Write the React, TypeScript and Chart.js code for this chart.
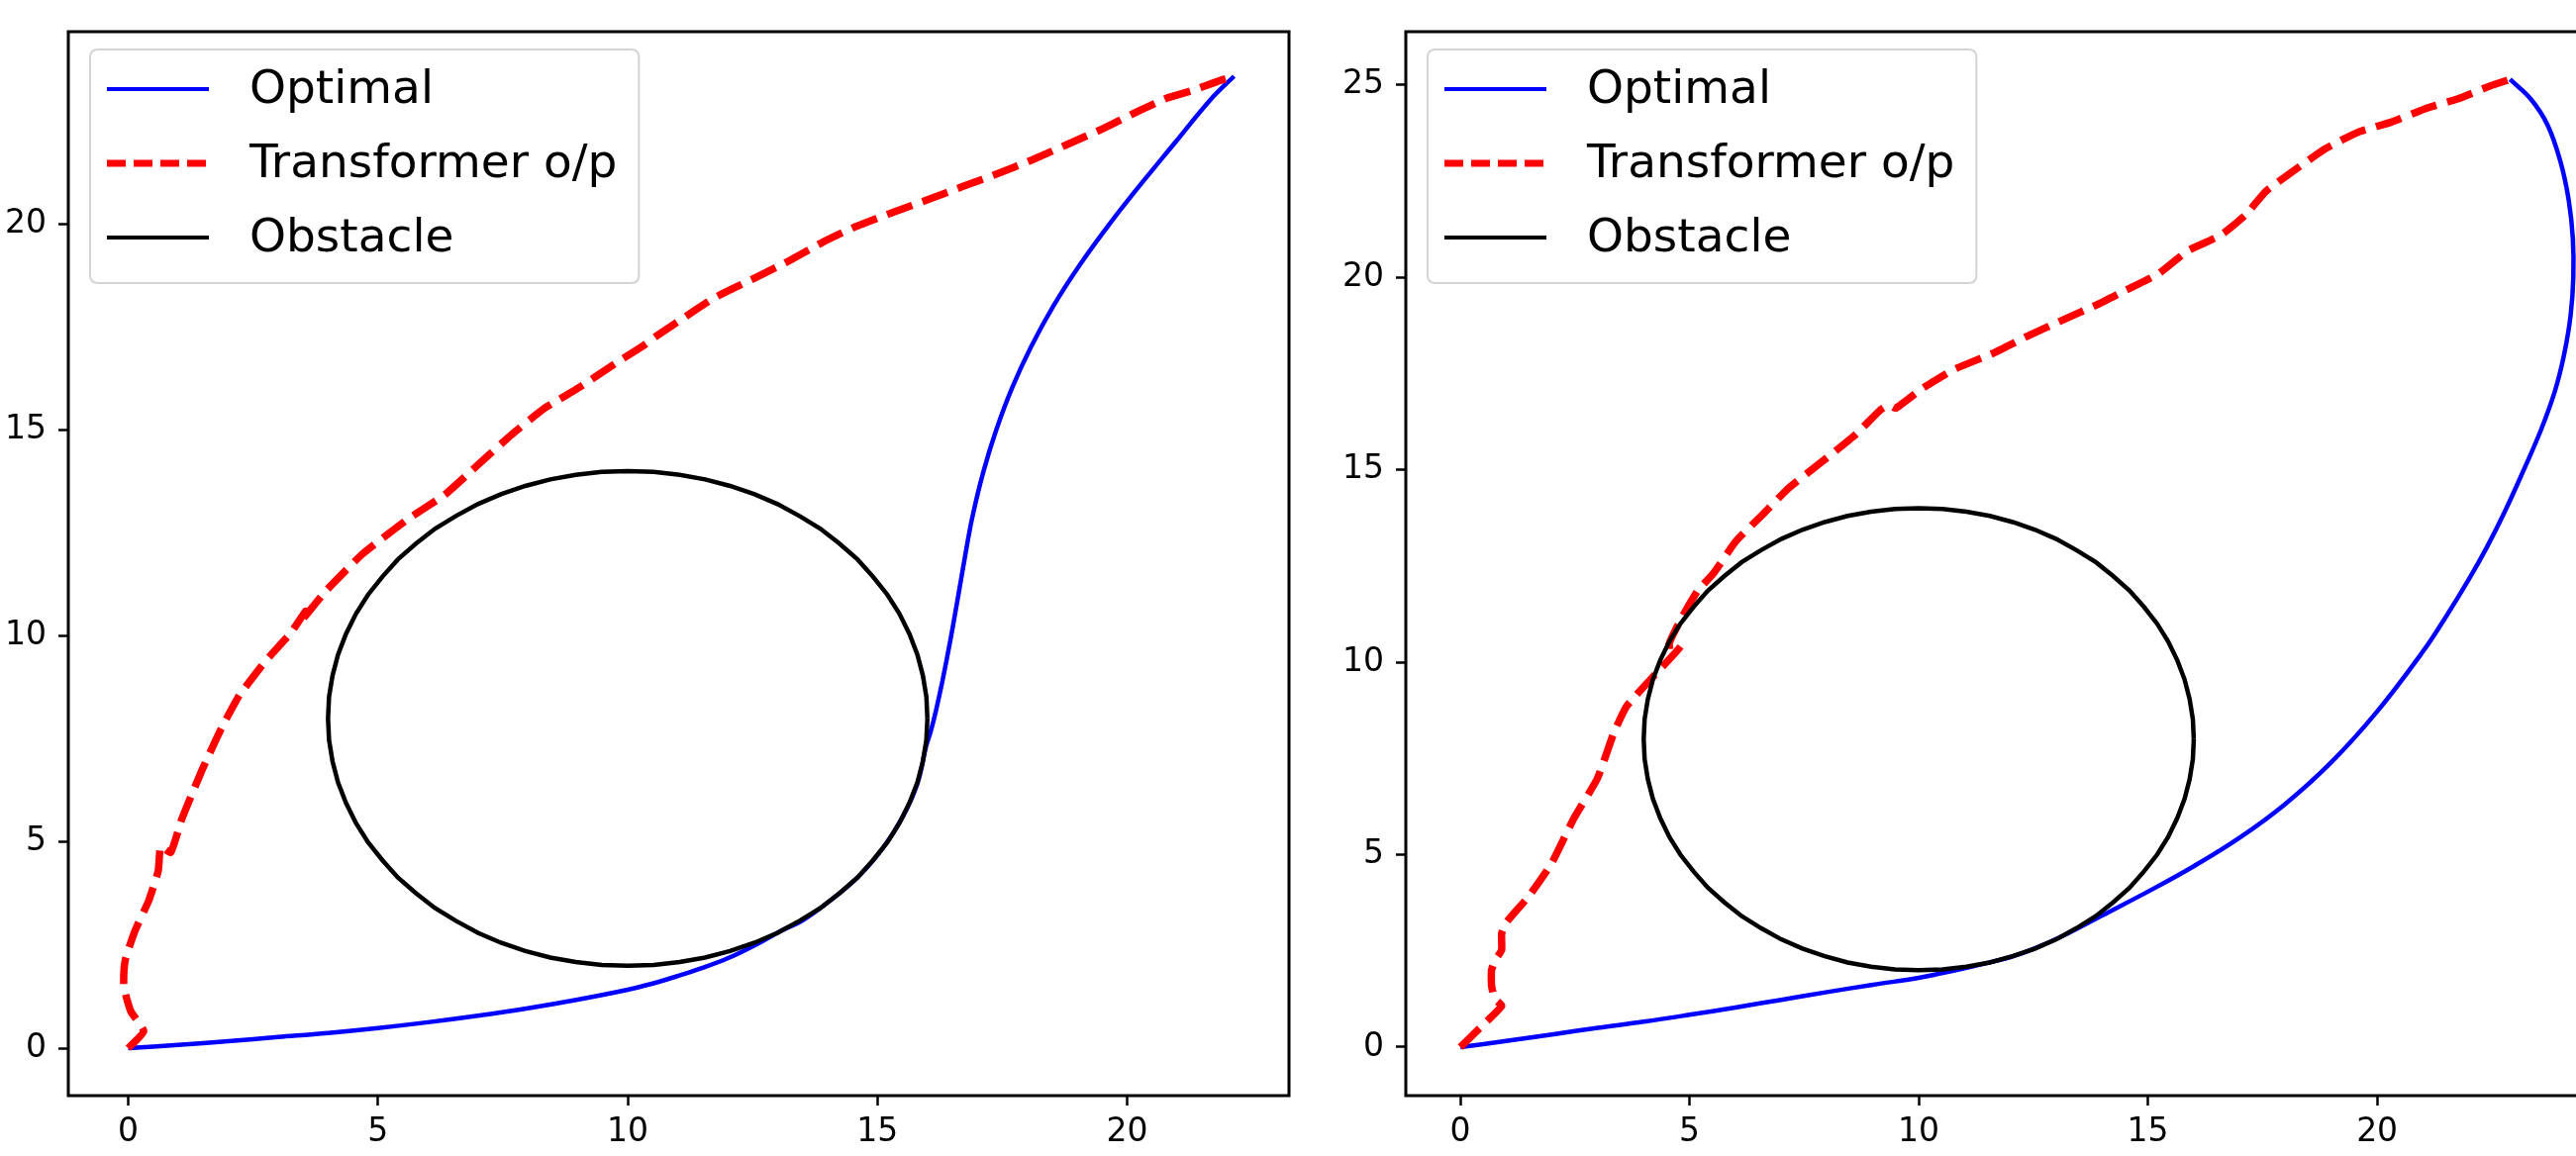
import React, { useEffect, useRef } from "react";
import { Chart, registerables } from "chart.js";

Chart.register(...registerables);

// ---------- data ----------
const SERIES_LABELS = ["Optimal", "Transformer o/p", "Obstacle"];
const X_TICKS = [0, 5, 10, 15, 20];
const Y_TICKS_LEFT = [0, 5, 10, 15, 20];
const Y_TICKS_RIGHT = [0, 5, 10, 15, 20, 25];

// Left panel
const leftOptimal: number[][] = [
  [0, 0], [1, 0.08], [2, 0.17], [3, 0.27], [4, 0.37], [5, 0.49], [6, 0.63], [7, 0.79],
  [8, 0.97], [9, 1.18], [10, 1.42], [10.5, 1.57], [11, 1.75], [11.5, 1.95], [12, 2.18],
  [12.5, 2.47], [13.09, 2.86], [13.5, 3.1], [14.0, 3.53], [14.6, 4.14], [15.1, 4.84],
  [15.5, 5.6], [15.8, 6.42], [15.97, 7.3], [16.07, 7.7], [16.17, 8.18], [16.3, 8.9],
  [16.45, 9.83], [16.6, 10.85], [16.75, 11.9], [16.9, 12.88], [17.12, 13.98], [17.38, 15.0],
  [17.69, 16.0], [18.07, 17.0], [18.52, 18.0], [19.05, 19.0], [19.65, 20.0], [20.3, 21.0],
  [20.98, 22.0], [21.66, 23.0], [22.14, 23.58],
];
const leftTransformer: number[][] = [
  [0, 0], [0.31, 0.41], [0.05, 0.9], [-0.09, 1.5], [-0.06, 2.14], [0.14, 2.86], [0.41, 3.58],
  [0.6, 4.3], [0.65, 4.9], [0.85, 4.75], [1.07, 5.55], [1.46, 6.7], [1.86, 7.75], [2.22, 8.55],
  [2.72, 9.35], [3.25, 10.07], [3.55, 10.6], [3.45, 10.35], [3.97, 11.11], [4.7, 12.0],
  [5.56, 12.8], [6.35, 13.44], [7.01, 14.16], [7.67, 14.88], [8.33, 15.52], [8.99, 16.0],
  [9.79, 16.64], [10.31, 17.04], [10.58, 17.28], [11.1, 17.7], [11.73, 18.2], [12.4, 18.6],
  [13.15, 19.05], [13.9, 19.55], [14.56, 19.93], [15.3, 20.27], [15.98, 20.57], [16.7, 20.9],
  [17.39, 21.21], [18.1, 21.55], [18.81, 21.93], [19.5, 22.3], [20.22, 22.73], [20.8, 23.05],
  [21.35, 23.25], [21.8, 23.45], [22.14, 23.58],
];

// Right panel
const rightOptimal: number[][] = [
  [0, 0], [1, 0.16], [2, 0.33], [3, 0.5], [4, 0.66], [5, 0.84], [6, 1.03], [7, 1.23],
  [8, 1.43], [9, 1.62], [10, 1.8], [10.5, 1.92], [11, 2.05], [11.5, 2.19], [12, 2.34],
  [12.5, 2.55], [13.09, 2.86], [14, 3.42], [15, 4.04], [16, 4.7], [17, 5.44], [18, 6.32],
  [19, 7.4], [20, 8.72], [21, 10.28], [21.5, 11.18], [22, 12.15], [22.4, 13.0],
  [22.8, 13.95], [23.2, 15.0], [23.58, 16.05], [23.88, 17.05], [24.08, 18.0], [24.22, 19.0],
  [24.28, 20.0], [24.27, 21.0], [24.18, 22.0], [24.0, 23.0], [23.72, 23.95], [23.36, 24.62],
  [22.9, 25.14],
];
const rightTransformer: number[][] = [
  [0, 0], [0.47, 0.55], [0.9, 1.07], [0.75, 1.25], [0.68, 1.6], [0.68, 2.0], [0.76, 2.26],
  [0.9, 2.52], [0.9, 2.95], [1.01, 3.25], [1.48, 3.9], [1.98, 4.75], [2.48, 5.95],
  [2.99, 6.98], [3.35, 8.17], [3.63, 8.86], [4.21, 9.63], [4.83, 10.45], [4.55, 10.45],
  [4.85, 11.2], [5.19, 11.88], [5.51, 12.29], [6.01, 13.14], [6.59, 13.83], [7.16, 14.52],
  [7.88, 15.2], [8.6, 15.89], [9.18, 16.57], [9.35, 16.68], [9.5, 16.6], [10.04, 17.08],
  [10.76, 17.6], [11.63, 18.03], [12.35, 18.46], [13.14, 18.89], [13.93, 19.31],
  [14.51, 19.66], [15.23, 20.09], [15.87, 20.69], [16.49, 21.03], [16.71, 21.2],
  [17.14, 21.63], [17.57, 22.23], [18.15, 22.74], [18.87, 23.34], [19.59, 23.77],
  [20.31, 24.03], [21.03, 24.37], [21.75, 24.63], [22.47, 24.97], [22.9, 25.14],
];

// Obstacle outline (same in both panels), read every 5 degrees around the ring
const obstacle: number[][] = [
  [16, 8], [15.98, 8.52], [15.91, 9.04], [15.8, 9.55], [15.64, 10.05], [15.44, 10.54],
  [15.2, 11.0], [14.91, 11.44], [14.6, 11.86], [14.24, 12.24], [13.86, 12.6], [13.44, 12.91],
  [13.0, 13.2], [12.54, 13.44], [12.05, 13.64], [11.55, 13.8], [11.04, 13.91], [10.52, 13.98],
  [10, 14], [9.48, 13.98], [8.96, 13.91], [8.45, 13.8], [7.95, 13.64], [7.46, 13.44],
  [7.0, 13.2], [6.56, 12.91], [6.14, 12.6], [5.76, 12.24], [5.4, 11.86], [5.09, 11.44],
  [4.8, 11.0], [4.56, 10.54], [4.36, 10.05], [4.2, 9.55], [4.09, 9.04], [4.02, 8.52],
  [4, 8], [4.02, 7.48], [4.09, 6.96], [4.2, 6.45], [4.36, 5.95], [4.56, 5.46],
  [4.8, 5.0], [5.09, 4.56], [5.4, 4.14], [5.76, 3.76], [6.14, 3.4], [6.56, 3.09],
  [7.0, 2.8], [7.46, 2.56], [7.95, 2.36], [8.45, 2.2], [8.96, 2.09], [9.48, 2.02],
  [10, 2], [10.52, 2.02], [11.04, 2.09], [11.55, 2.2], [12.05, 2.36], [12.54, 2.56],
  [13.0, 2.8], [13.44, 3.09], [13.86, 3.4], [14.24, 3.76], [14.6, 4.14], [14.91, 4.56],
  [15.2, 5.0], [15.44, 5.46], [15.64, 5.95], [15.8, 6.45], [15.91, 6.96], [15.98, 7.48],
  [16, 8],
];

// ---------- styling ----------
const FONT = "'DejaVu Sans', 'Liberation Sans', sans-serif";
const TICK_FONT_SIZE = 33;
const LEGEND_FONT_SIZE = 47;
const CANVAS_H = 1168;

const toPts = (arr: number[][]) => arr.map(([x, y]) => ({ x, y }));

const framePlugin = {
  id: "mplFrameLegend",
  afterDatasetsDraw(chart: any) {
    const { ctx, chartArea } = chart;
    ctx.save();
    // spines
    ctx.strokeStyle = "#000";
    ctx.lineWidth = 3;
    ctx.setLineDash([]);
    ctx.strokeRect(chartArea.left, chartArea.top, chartArea.right - chartArea.left, chartArea.bottom - chartArea.top);

    // legend
    const ds = chart.data.datasets;
    ctx.font = `${LEGEND_FONT_SIZE}px ${FONT}`;
    const textW = Math.max(...ds.map((d: any) => ctx.measureText(d.label).width));
    const x0 = chartArea.left + 22;
    const y0 = chartArea.top + 18;
    const w = 17 + 103 + 41 + textW + 22;
    const h = 236;
    const r = 8;
    ctx.beginPath();
    ctx.moveTo(x0 + r, y0);
    ctx.lineTo(x0 + w - r, y0);
    ctx.quadraticCurveTo(x0 + w, y0, x0 + w, y0 + r);
    ctx.lineTo(x0 + w, y0 + h - r);
    ctx.quadraticCurveTo(x0 + w, y0 + h, x0 + w - r, y0 + h);
    ctx.lineTo(x0 + r, y0 + h);
    ctx.quadraticCurveTo(x0, y0 + h, x0, y0 + h - r);
    ctx.lineTo(x0, y0 + r);
    ctx.quadraticCurveTo(x0, y0, x0 + r, y0);
    ctx.closePath();
    ctx.fillStyle = "rgba(255,255,255,0.85)";
    ctx.fill();
    ctx.strokeStyle = "#d4d4d4";
    ctx.lineWidth = 2;
    ctx.stroke();

    ds.forEach((d: any, i: number) => {
      const cy = y0 + 40 + i * 75;
      ctx.beginPath();
      ctx.setLineDash(d.legendDash || []);
      ctx.lineCap = "butt";
      ctx.strokeStyle = d.borderColor;
      ctx.lineWidth = d.legendWidth || d.borderWidth;
      ctx.moveTo(x0 + 17, cy);
      ctx.lineTo(x0 + 120, cy);
      ctx.stroke();
      ctx.setLineDash([]);
      ctx.fillStyle = "#000";
      ctx.textBaseline = "middle";
      ctx.textAlign = "left";
      ctx.fillText(d.label, x0 + 161, cy + 2);
    });
    ctx.restore();
  },
};

function makeConfig(p: any) {
  const tickOpts = (pad: number) => ({
    color: "#000",
    padding: pad,
    font: { family: FONT, size: TICK_FONT_SIZE },
  });
  const gridOpts = {
    display: true,
    drawOnChartArea: false,
    drawTicks: true,
    tickLength: 10,
    tickWidth: 2.5,
    tickColor: "#000",
  };
  return {
    type: "scatter",
    data: {
      datasets: [
        {
          label: SERIES_LABELS[0],
          data: toPts(p.optimal),
          showLine: true,
          borderColor: "#0000ff",
          backgroundColor: "#0000ff",
          borderWidth: 4.5,
          legendWidth: 4,
          pointRadius: 0,
          tension: 0.4,
          order: 3,
        },
        {
          label: SERIES_LABELS[1],
          data: toPts(p.transformer),
          showLine: true,
          borderColor: "#ff0000",
          backgroundColor: "#ff0000",
          borderWidth: 7.5,
          borderDash: [27, 11],
          legendDash: [19, 8],
          legendWidth: 7,
          pointRadius: 0,
          tension: 0.15,
          order: 2,
        },
        {
          label: SERIES_LABELS[2],
          data: toPts(obstacle),
          showLine: true,
          borderColor: "#000000",
          backgroundColor: "#000000",
          borderWidth: 4.5,
          legendWidth: 4,
          pointRadius: 0,
          tension: 0,
          order: 1,
        },
      ],
    },
    options: {
      responsive: false,
      maintainAspectRatio: false,
      animation: false,
      devicePixelRatio: 1,
      events: [],
      layout: { padding: { left: 0, top: 32, right: p.padRight, bottom: 0 } },
      plugins: { legend: { display: false }, tooltip: { enabled: false } },
      scales: {
        x: {
          type: "linear",
          min: p.xMin,
          max: p.xMax,
          afterBuildTicks: (s: any) => { s.ticks = X_TICKS.map((v) => ({ value: v })); },
          afterFit: (s: any) => { s.height = CANVAS_H - 1107; },
          grid: gridOpts,
          border: { display: false },
          ticks: { ...tickOpts(8), maxRotation: 0, autoSkip: false },
        },
        y: {
          type: "linear",
          min: p.yMin,
          max: p.yMax,
          afterBuildTicks: (s: any) => { s.ticks = p.yTicks.map((v: number) => ({ value: v })); },
          afterFit: (s: any) => { s.width = p.yAxisWidth; },
          grid: gridOpts,
          border: { display: false },
          ticks: { ...tickOpts(12), autoSkip: false },
        },
      },
    },
    plugins: [framePlugin],
  } as any;
}

export default function App() {
  const leftRef = useRef<HTMLCanvasElement>(null);
  const rightRef = useRef<HTMLCanvasElement>(null);

  useEffect(() => {
    const c1 = new Chart(
      leftRef.current as HTMLCanvasElement,
      makeConfig({
        optimal: leftOptimal,
        transformer: leftTransformer,
        xMin: -1.2,
        xMax: 23.24,
        yMin: -1.15,
        yMax: 24.66,
        yTicks: Y_TICKS_LEFT,
        yAxisWidth: 69,
        padRight: 8,
      })
    );
    const c2 = new Chart(
      rightRef.current as HTMLCanvasElement,
      makeConfig({
        optimal: rightOptimal,
        transformer: rightTransformer,
        xMin: -1.19,
        xMax: 25.44,
        yMin: -1.26,
        yMax: 26.38,
        yTicks: Y_TICKS_RIGHT,
        yAxisWidth: 110,
        padRight: 17,
      })
    );
    return () => {
      c1.destroy();
      c2.destroy();
    };
  }, []);

  return (
    <div
      style={{
        position: "fixed",
        left: 0,
        top: 0,
        width: 2602,
        height: CANVAS_H,
        overflow: "hidden",
        background: "#fff",
      }}
    >
      <canvas ref={leftRef} width={1310} height={CANVAS_H} style={{ position: "absolute", left: 0, top: 0 }} />
      <canvas ref={rightRef} width={1360} height={CANVAS_H} style={{ position: "absolute", left: 1310, top: 0 }} />
    </div>
  );
}
